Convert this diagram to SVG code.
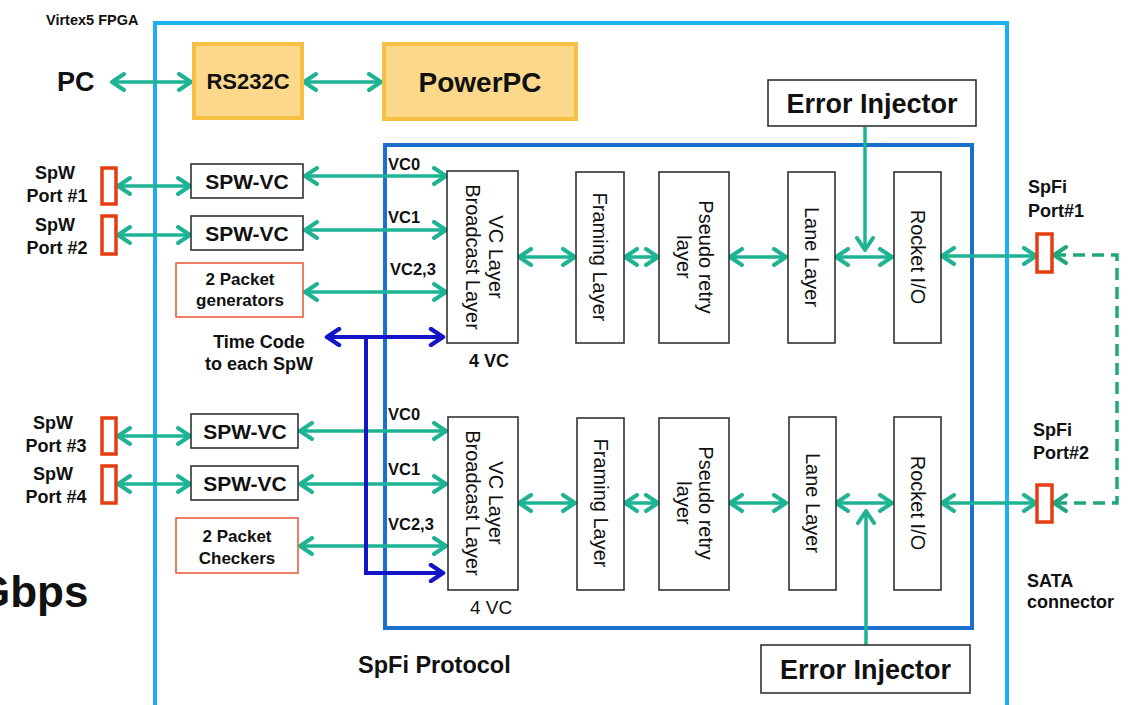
<svg xmlns="http://www.w3.org/2000/svg" width="1130" height="705" viewBox="0 0 1130 705">
<style>
text{font-family:"Liberation Sans",Arial,sans-serif;fill:#111}
.b{font-weight:bold}
.c{text-anchor:middle}
.box{fill:#fff;stroke:#333;stroke-width:1.6}
.org{fill:#fcd88b;stroke:#f7c043;stroke-width:4}
.port{fill:#fff;stroke:#e63c12;stroke-width:3.5}
.gen{fill:#fff;stroke:#e8603c;stroke-width:1.6}
.t{stroke:#1db394;stroke-width:3.5;fill:none}
.tb{stroke:#1414c8;stroke-width:4;fill:none}
.td{stroke:#20a87c;stroke-width:3.5;fill:none;stroke-dasharray:12 7}
.a2{marker-start:url(#ah);marker-end:url(#ah)}
.a1{marker-end:url(#ah)}
.rt{font-size:20px}
</style>
<defs>
<marker id="ah" viewBox="0 0 18 20" refX="15" refY="10" markerWidth="18" markerHeight="20" markerUnits="userSpaceOnUse" orient="auto-start-reverse"><path d="M3,2 L15,10 L3,18" fill="none" stroke="#1db394" stroke-width="4" stroke-linecap="round" stroke-linejoin="round"/></marker>
<marker id="ahb" viewBox="0 0 18 20" refX="15" refY="10" markerWidth="18" markerHeight="20" markerUnits="userSpaceOnUse" orient="auto-start-reverse"><path d="M3,2 L15,10 L3,18" fill="none" stroke="#1414c8" stroke-width="4.5" stroke-linecap="round" stroke-linejoin="round"/></marker>
<marker id="ahd" viewBox="0 0 18 20" refX="15" refY="10" markerWidth="18" markerHeight="20" markerUnits="userSpaceOnUse" orient="auto-start-reverse"><path d="M3,2 L15,10 L3,18" fill="none" stroke="#20a87c" stroke-width="4" stroke-linecap="round" stroke-linejoin="round"/></marker>
</defs>

<g id="fpga">
<path d="M155,705 L155,23 L1007,23 L1007,705" fill="none" stroke="#1cb0ee" stroke-width="4"/>
<text x="46" y="25" class="b" font-size="14.5">Virtex5 FPGA</text>
</g>
<g id="spfi">
<rect x="385" y="145" width="587" height="483" fill="none" stroke="#1a70cc" stroke-width="4"/>
<text x="358" y="673" class="b" font-size="23.5">SpFi Protocol</text>
</g>
<text x="-24" y="607" class="b" font-size="44">Gbps</text>

<g id="connectors">
<line class="t a2" x1="112" y1="82" x2="191" y2="82"/>
<line class="t a2" x1="304" y1="82" x2="381" y2="82"/>
<line class="t a2" x1="118" y1="186" x2="190" y2="186"/>
<line class="t a2" x1="118" y1="235" x2="190" y2="235"/>
<line class="t a2" x1="118" y1="436" x2="190" y2="436"/>
<line class="t a2" x1="118" y1="484" x2="190" y2="484"/>
<line class="t a2" x1="305" y1="176" x2="446" y2="176"/>
<line class="t a2" x1="305" y1="230" x2="446" y2="230"/>
<line class="t a2" x1="305" y1="292" x2="446" y2="292"/>
<line class="t a2" x1="300" y1="431" x2="446" y2="431"/>
<line class="t a2" x1="300" y1="484" x2="446" y2="484"/>
<line class="t a2" x1="300" y1="546" x2="446" y2="546"/>
<line class="tb" x1="327" y1="337" x2="443" y2="337" marker-start="url(#ahb)" marker-end="url(#ahb)"/>
<path class="tb" d="M366,337 L366,573 L443,573" marker-end="url(#ahb)"/>
<line class="t a2" x1="519" y1="257" x2="575" y2="257"/>
<line class="t a2" x1="625" y1="257" x2="658" y2="257"/>
<line class="t a2" x1="730" y1="257" x2="786" y2="257"/>
<line class="t a2" x1="836" y1="257" x2="892" y2="257"/>
<line class="t a2" x1="942" y1="256" x2="1036" y2="256"/>
<line class="t a1" x1="865" y1="127" x2="865" y2="250"/>
<line class="t a2" x1="519" y1="503" x2="575" y2="503"/>
<line class="t a2" x1="625" y1="503" x2="658" y2="503"/>
<line class="t a2" x1="730" y1="503" x2="786" y2="503"/>
<line class="t a2" x1="836" y1="503" x2="892" y2="503"/>
<line class="t a2" x1="942" y1="503" x2="1036" y2="503"/>
<line class="t a1" x1="866" y1="645" x2="866" y2="511"/>
<path class="td" d="M1054,255 L1117,255 L1117,503 L1054,503" marker-start="url(#ahd)" marker-end="url(#ahd)"/>
<g class="b" font-size="16.5">
<text x="388" y="170">VC0</text>
<text x="388" y="223">VC1</text>
<text x="390" y="275">VC2,3</text>
<text x="388" y="420">VC0</text>
<text x="388" y="475">VC1</text>
<text x="388" y="530">VC2,3</text>
</g>
<text x="259" y="348" class="b c" font-size="18">Time Code</text>
<text x="259" y="370" class="b c" font-size="18">to each SpW</text>
</g>

<g id="pc"><text x="57" y="91" class="b" font-size="27">PC</text></g>
<g id="rs232c"><rect class="org" x="194" y="44" width="108" height="74"/><text x="248" y="89" class="b c" font-size="22">RS232C</text></g>
<g id="powerpc"><rect class="org" x="384" y="44" width="192" height="75"/><text x="480" y="92" class="b c" font-size="28">PowerPC</text></g>

<g id="port1"><rect class="port" x="102" y="168" width="14" height="36"/><text x="55" y="179" class="b c" font-size="18">SpW</text><text x="57" y="202" class="b c" font-size="18">Port #1</text></g>
<g id="port2"><rect class="port" x="102" y="216" width="14" height="38"/><text x="55" y="231" class="b c" font-size="18">SpW</text><text x="57" y="254" class="b c" font-size="18">Port #2</text></g>
<g id="port3"><rect class="port" x="102" y="418" width="14" height="36"/><text x="53" y="429" class="b c" font-size="18">SpW</text><text x="56" y="452" class="b c" font-size="18">Port #3</text></g>
<g id="port4"><rect class="port" x="102" y="466" width="14" height="37"/><text x="53" y="480" class="b c" font-size="18">SpW</text><text x="56" y="503" class="b c" font-size="18">Port #4</text></g>

<g id="spwvc1"><rect class="box" x="191" y="164" width="112" height="34"/><text x="247" y="189" class="b c" font-size="21">SPW-VC</text></g>
<g id="spwvc2"><rect class="box" x="191" y="216" width="112" height="34"/><text x="247" y="241" class="b c" font-size="21">SPW-VC</text></g>
<g id="spwvc3"><rect class="box" x="191" y="414" width="107" height="34"/><text x="245" y="439" class="b c" font-size="21">SPW-VC</text></g>
<g id="spwvc4"><rect class="box" x="191" y="466" width="107" height="34"/><text x="245" y="491" class="b c" font-size="21">SPW-VC</text></g>
<g id="pktgen"><rect class="gen" x="176" y="263" width="127" height="54"/><text x="240" y="285" class="b c" font-size="17">2 Packet</text><text x="240" y="306" class="b c" font-size="17">generators</text></g>
<g id="pktchk"><rect class="gen" x="176" y="518" width="122" height="55"/><text x="237" y="542" class="b c" font-size="17">2 Packet</text><text x="237" y="564" class="b c" font-size="17">Checkers</text></g>

<g id="vc1"><rect class="box" x="447" y="171" width="71" height="172"/><g transform="translate(482.5,257) rotate(90)"><text class="c rt" x="0" y="-6">VC Layer</text><text class="c rt" x="0" y="17">Broadcast Layer</text></g><text x="469" y="367" class="b" font-size="18">4 VC</text></g>
<g id="framing1"><rect class="box" x="576" y="172" width="48" height="171"/><text class="c rt" transform="translate(600,257) rotate(90)" x="0" y="7">Framing Layer</text></g>
<g id="pseudo1"><rect class="box" x="659" y="172" width="70" height="171"/><g transform="translate(694,257) rotate(90)"><text class="c rt" x="0" y="-5">Pseudo retry</text><text class="c rt" x="0" y="17">layer</text></g></g>
<g id="lane1"><rect class="box" x="788" y="172" width="47" height="171"/><text class="c rt" transform="translate(811.5,257) rotate(90)" x="0" y="7">Lane Layer</text></g>
<g id="rocket1"><rect class="box" x="894" y="172" width="47" height="171"/><text class="c rt" transform="translate(917.5,257) rotate(90)" x="0" y="7">Rocket I/O</text></g>

<g id="vc2"><rect class="box" x="448" y="417" width="70" height="173"/><g transform="translate(483,503) rotate(90)"><text class="c rt" x="0" y="-6">VC Layer</text><text class="c rt" x="0" y="17">Broadcast Layer</text></g><text x="470" y="614" font-size="19">4 VC</text></g>
<g id="framing2"><rect class="box" x="577" y="418" width="47" height="172"/><text class="c rt" transform="translate(600.5,503) rotate(90)" x="0" y="7">Framing Layer</text></g>
<g id="pseudo2"><rect class="box" x="659" y="418" width="70" height="172"/><g transform="translate(694,503) rotate(90)"><text class="c rt" x="0" y="-5">Pseudo retry</text><text class="c rt" x="0" y="17">layer</text></g></g>
<g id="lane2"><rect class="box" x="789" y="417" width="47" height="173"/><text class="c rt" transform="translate(812.5,503) rotate(90)" x="0" y="7">Lane Layer</text></g>
<g id="rocket2"><rect class="box" x="894" y="417" width="47" height="173"/><text class="c rt" transform="translate(917.5,503) rotate(90)" x="0" y="7">Rocket I/O</text></g>

<g id="errinj1"><rect class="box" x="768" y="80" width="208" height="46"/><text x="872" y="113" class="b c" font-size="27">Error Injector</text></g>
<g id="errinj2"><rect class="box" x="761" y="645" width="209" height="48"/><text x="865.5" y="679" class="b c" font-size="27">Error Injector</text></g>

<g id="spfiport1"><rect class="port" x="1037" y="234" width="15" height="38"/><text x="1028" y="193" class="b" font-size="18">SpFi</text><text x="1028" y="217" class="b" font-size="18">Port#1</text></g>
<g id="spfiport2"><rect class="port" x="1037" y="485" width="15" height="37"/><text x="1033" y="436" class="b" font-size="18">SpFi</text><text x="1033" y="459" class="b" font-size="18">Port#2</text></g>
<g id="sata"><text x="1027" y="587" class="b" font-size="18">SATA</text><text x="1027" y="608" class="b" font-size="18">connector</text></g>
</svg>
